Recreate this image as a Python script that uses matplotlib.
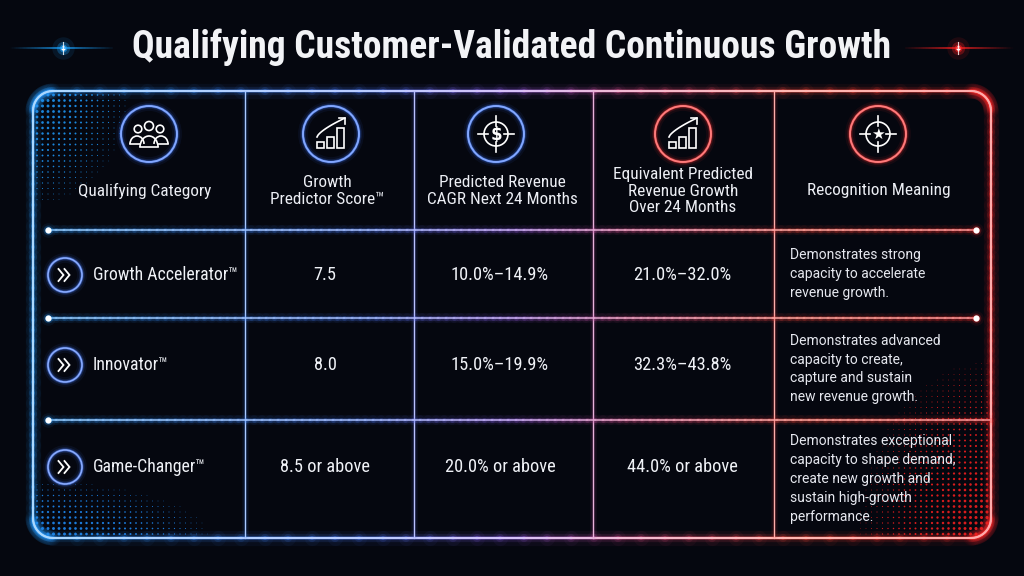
import numpy as np
import matplotlib
matplotlib.use("Agg")
import matplotlib.pyplot as plt
from matplotlib.collections import LineCollection
from matplotlib.patches import Circle, Rectangle, Arc
from matplotlib.colors import LinearSegmentedColormap, to_rgb
from matplotlib import font_manager

# ---- data ----
title = "Qualifying Customer-Validated Continuous Growth"
headers = ["Qualifying Category",
           "Growth\nPredictor Score™",
           "Predicted Revenue\nCAGR Next 24 Months",
           "Equivalent Predicted\nRevenue Growth\nOver 24 Months",
           "Recognition Meaning"]
categories = ["Growth Accelerator™", "Innovator™", "Game-Changer™"]
scores = ["7.5", "8.0", "8.5 or above"]
cagr = ["10.0%–14.9%", "15.0%–19.9%", "20.0% or above"]
growth24 = ["21.0%–32.0%", "32.3%–43.8%", "44.0% or above"]
meanings = ["Demonstrates strong\ncapacity to accelerate\nrevenue growth.",
            "Demonstrates advanced\ncapacity to create,\ncapture and sustain\nnew revenue growth.",
            "Demonstrates exceptional\ncapacity to shape demand,\ncreate new growth and\nsustain high-growth\nperformance."]

# ---- layout (pixels) ----
col_edges = [33, 245, 414, 593, 774, 991]
row_edges = [91, 230, 318, 420, 538]
icon_x = [149, 331, 496, 683, 878]
head_x = [145, 327, 502, 683, 879]
val_x = [325, 500, 682]
row_y = [275, 365, 467]

names = {f.name for f in font_manager.fontManager.ttflist}
narrow = "Roboto"
for cand in ["Roboto Condensed", "Liberation Sans Narrow", "Open Sans Condensed", "Roboto"]:
    if cand in names:
        narrow = cand
        break
body = "Roboto" if "Roboto" in names else "DejaVu Sans"

BG = "#05070f"
cmap = LinearSegmentedColormap.from_list(
    "br", [(0, "#2a9dff"), (0.35, "#4f7dff"), (0.5, "#9a63f0"),
           (0.62, "#e0508f"), (0.8, "#ff4a3a"), (1, "#ff2a2a")])


def xcol(x):
    return cmap(np.clip((x - 33) / (991 - 33), 0, 1))


def lighten(c, f):
    r, g, b = to_rgb(c)[:3]
    return (r + (1 - r) * f, g + (1 - g) * f, b + (1 - b) * f)


fig = plt.figure(figsize=(10.24, 5.76), dpi=100, facecolor=BG)
ax = fig.add_axes([0, 0, 1, 1])
ax.set_xlim(0, 1024)
ax.set_ylim(576, 0)
ax.axis("off")
ax.set_facecolor(BG)


def glow_path(xs, ys, core_light=0.45, core_lw=1.2, glow=(10, 6, 3), galpha=(0.05, 0.1, 0.25)):
    pts = np.column_stack([xs, ys])
    segs = np.stack([pts[:-1], pts[1:]], axis=1)
    mx = (pts[:-1, 0] + pts[1:, 0]) / 2
    cols = [xcol(x) for x in mx]
    for lw, a in zip(glow, galpha):
        ax.add_collection(LineCollection(segs, colors=[(c[0], c[1], c[2], a) for c in cols],
                                         linewidths=lw, capstyle="round"))
    ax.add_collection(LineCollection(segs, colors=[lighten(c, core_light) for c in cols],
                                     linewidths=core_lw, capstyle="round"))


def line_pts(x0, y0, x1, y1, n=120):
    return np.linspace(x0, x1, n), np.linspace(y0, y1, n)


def dot(x, y, color):
    for s, a in [(110, 0.07), (50, 0.2), (24, 0.45)]:
        ax.scatter([x], [y], s=s, color=color, alpha=a, lw=0, zorder=5)
    ax.scatter([x], [y], s=20, color="white", lw=0, zorder=6)


# halftone dots in corners
def halftone(cx, cy, sx, sy, dx, dy, color, rcorner):
    xs = np.arange(cx + dx * 4, cx + dx * (sx + 4), dx * 5.5)
    ys = np.arange(cy + dy * 4, cy + dy * (sy + 4), dy * 5.5)
    X, Y = np.meshgrid(xs, ys)
    d = np.sqrt(((X - cx) / sx) ** 2 + ((Y - cy) / sy) ** 2)
    size = np.clip(1 - d, 0, 1) ** 1.6 * 6
    ccx, ccy = cx + dx * rcorner, cy + dy * rcorner
    inside = ~(((X - ccx) * dx < 0) & ((Y - ccy) * dy < 0) &
               (np.hypot(X - ccx, Y - ccy) > rcorner - 3))
    m = (size > 0.2) & inside
    ax.scatter(X[m], Y[m], s=size[m], color=color, lw=0, alpha=0.85, zorder=1)


halftone(33, 91, 110, 130, 1, 1, "#1f9cff", 20)
halftone(33, 538, 200, 65, 1, -1, "#1f8fff", 20)
halftone(991, 538, 150, 200, -1, -1, "#ff2020", 20)

# frame (rounded rectangle)
R = 20
x0, x1, y0, y1 = col_edges[0], col_edges[-1], row_edges[0], row_edges[-1]
t = np.linspace(0, np.pi / 2, 20)
fx, fy = [], []
for (ccx, ccy, a0) in [(x0 + R, y0 + R, np.pi), (x1 - R, y0 + R, 1.5 * np.pi),
                       (x1 - R, y1 - R, 0), (x0 + R, y1 - R, 0.5 * np.pi)]:
    fx.extend(ccx + R * np.cos(a0 + t))
    fy.extend(ccy + R * np.sin(a0 + t))
fx.append(fx[0]); fy.append(fy[0])
px_, py_ = [], []
for i in range(len(fx) - 1):
    n = 40 if abs(fx[i + 1] - fx[i]) > 50 or abs(fy[i + 1] - fy[i]) > 50 else 2
    px_.extend(np.linspace(fx[i], fx[i + 1], n)[:-1])
    py_.extend(np.linspace(fy[i], fy[i + 1], n)[:-1])
px_.append(fx[-1]); py_.append(fy[-1])
glow_path(np.array(px_), np.array(py_), core_light=0.6, core_lw=1.5,
          glow=(11, 6, 3), galpha=(0.05, 0.12, 0.3))

# vertical dividers
for x in col_edges[1:-1]:
    c = xcol(x)
    for lw, a in [(5, 0.06), (2.5, 0.18)]:
        ax.plot([x, x], [y0, y1], color=c, lw=lw, alpha=a, solid_capstyle="butt")
    ax.plot([x, x], [y0, y1], color=lighten(c, 0.55), lw=0.9)

# horizontal row lines
for i, y in enumerate(row_edges[1:-1]):
    xe = 976 if i < 2 else x1
    xs, ys = line_pts(48, y, xe, y)
    glow_path(xs, ys, core_light=0.5, core_lw=1.1, glow=(7, 3.5), galpha=(0.06, 0.18))
    dot(48, y, "#2a9dff")
    if i < 2:
        dot(976, y, "#ff3030")

# title and flares
ax.text(512, 47, title, ha="center", va="center", color="#f2f3f6",
        fontsize=27, fontweight="bold", family=narrow)
for (xa, xb, xs_, col) in [(7, 113, 63, "#1aa3ff"), (905, 1017, 958, "#ff2020")]:
    xx = np.linspace(xa, xb, 80)
    segs = np.stack([np.column_stack([xx[:-1], np.full(79, 48)]),
                     np.column_stack([xx[1:], np.full(79, 48)])], axis=1)
    mid = (xx[:-1] + xx[1:]) / 2
    al = np.clip(1 - np.abs(mid - xs_) / ((xb - xa) / 2), 0, 1) * 0.9
    rgb = to_rgb(col)
    ax.add_collection(LineCollection(segs, colors=[(*rgb, a) for a in al], linewidths=1.2))
    for s, a in [(260, 0.1), (90, 0.3), (30, 0.6)]:
        ax.scatter([xs_], [48], s=s, color=col, alpha=a, lw=0)
    ax.plot([xs_, xs_], [42, 54], color="white", lw=0.8, alpha=0.8)
    ax.scatter([xs_], [48], s=10, color="white", lw=0)


def glow_circle(cx, cy, r, color, lw_core=1.4):
    for lw, a in [(7, 0.07), (4, 0.16), (2.2, 0.4)]:
        ax.add_patch(Circle((cx, cy), r, fill=False, ec=color, lw=lw, alpha=a))
    ax.add_patch(Circle((cx, cy), r, fill=False, ec=lighten(color, 0.35), lw=lw_core))


W = dict(color="white", lw=1.2)


def icon_people(cx, cy):
    ax.add_patch(Circle((cx, cy - 8), 4.5, fill=False, ec="white", lw=1.2))
    ax.add_patch(Circle((cx - 11, cy - 5), 3.8, fill=False, ec="white", lw=1.2))
    ax.add_patch(Circle((cx + 11, cy - 5), 3.8, fill=False, ec="white", lw=1.2))
    ax.add_patch(Arc((cx, cy + 13), 18, 22, theta1=180, theta2=360, ec="white", lw=1.2))
    ax.add_patch(Arc((cx - 12, cy + 10), 14, 16, theta1=180, theta2=360, ec="white", lw=1.2))
    ax.add_patch(Arc((cx + 12, cy + 10), 14, 16, theta1=180, theta2=360, ec="white", lw=1.2))
    ax.plot([cx - 19, cx - 9], [cy + 10, cy + 10], **W)
    ax.plot([cx + 9, cx + 19], [cy + 10, cy + 10], **W)
    ax.plot([cx - 9, cx + 9], [cy + 13, cy + 13], **W)


def icon_bars(cx, cy):
    for ox, h in [(-14, 6), (-4, 11), (6, 20)]:
        ax.add_patch(Rectangle((cx + ox, cy + 14 - h), 7, h, fill=False, ec="white", lw=1.2))
    tt = np.linspace(0, 1, 30)
    px = cx - 14 + 28 * tt
    py = cy + 3 - 19 * tt ** 0.7
    ax.plot(px, py, **W)
    ax.plot([cx + 14 - 6, cx + 14, cx + 14], [cy - 16, cy - 16, cy - 10], **W)


def icon_target(cx, cy, glyph, size):
    ax.add_patch(Circle((cx, cy), 12, fill=False, ec="white", lw=1.2))
    for ddx, ddy in [(0, 1), (0, -1), (1, 0), (-1, 0)]:
        ax.plot([cx + ddx * 8, cx + ddx * 18], [cy + ddy * 8, cy + ddy * 18], **W)
    ax.text(cx, cy + 0.5, glyph, ha="center", va="center", color="white",
            fontsize=size, fontweight="bold", family="DejaVu Sans")


icon_cols = ["#3f78ff", "#3f78ff", "#3f78ff", "#ff3434", "#ff3434"]
for i, cx in enumerate(icon_x):
    glow_circle(cx, 134, 28, icon_cols[i])
icon_people(icon_x[0], 134)
icon_bars(icon_x[1], 134)
icon_target(icon_x[2], 134, "$", 12)
icon_bars(icon_x[3], 134)
icon_target(icon_x[4], 134, "★", 11)

for i, h in enumerate(headers):
    ax.text(head_x[i], 191, h, ha="center", va="center", color="#eceef4",
            fontsize=12.4, family=narrow, linespacing=1.12)

# rows
for i in range(3):
    y = row_y[i]
    glow_circle(65, y, 17, "#4a7dff", lw_core=1.2)
    for ox in (-4, 2):
        ax.plot([65 + ox - 2.5, 65 + ox + 2.5, 65 + ox - 2.5], [y - 6, y, y + 6],
                color="white", lw=1.3, solid_joinstyle="miter")
    ax.text(93, y, categories[i], ha="left", va="center", color="#f0f2f7",
            fontsize=12.8, family=narrow)
    ax.text(val_x[0], y, scores[i], ha="center", va="center", color="#f0f2f7",
            fontsize=13.2, family=narrow)
    ax.text(val_x[1], y, cagr[i], ha="center", va="center", color="#f0f2f7",
            fontsize=13.2, family=narrow)
    ax.text(val_x[2], y, growth24[i], ha="center", va="center", color="#f0f2f7",
            fontsize=13.2, family=narrow)
    yc = (row_edges[i + 1] + row_edges[i + 2]) / 2
    ax.text(790, yc, meanings[i], ha="left", va="center", color="#e6e8ef",
            fontsize=10, family=body, linespacing=1.45)

fig.savefig("out.png", dpi=100, facecolor=BG)
